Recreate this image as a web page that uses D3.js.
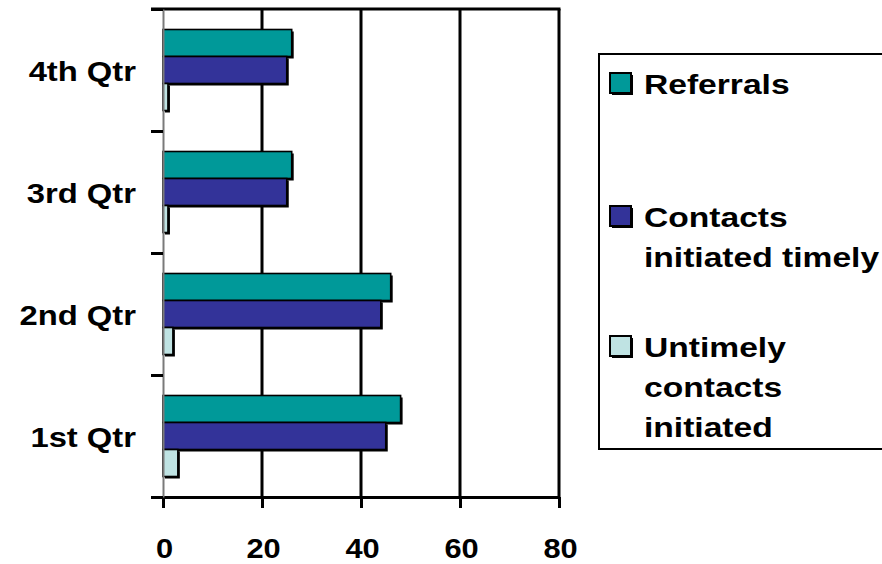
<!DOCTYPE html>
<html>
<head>
<meta charset="utf-8">
<script src="https://cdn.jsdelivr.net/npm/d3@7"></script>
<style>
  html, body { margin: 0; padding: 0; background: #fff; }
  svg { display: block; }
  text { font-family: "Liberation Sans", Arial, sans-serif; font-weight: bold; fill: #000; }
</style>
</head>
<body>
<svg id="chart" width="882" height="564"></svg>
<script>
// Quarterly referral and contact counts
const categories = ["1st Qtr", "2nd Qtr", "3rd Qtr", "4th Qtr"];
const referrals = [48, 46, 26, 26];
const contactsTimely = [45, 44, 25, 25];
const untimelyContacts = [3, 2, 1, 1];
const xTicks = [0, 20, 40, 60, 80];

const seriesNames = ["Referrals", "Contacts initiated timely", "Untimely contacts initiated"];
const seriesValues = [referrals, contactsTimely, untimelyContacts];
const seriesColors = ["#009999", "#333399", "#bfe3e3"];
const legendLines = [["Referrals"], ["Contacts", "initiated timely"], ["Untimely", "contacts", "initiated"]];

const svg = d3.select("#chart");

const plot = { left: 163, right: 559, top: 9, bottom: 497 };

const x = d3.scaleLinear().domain([0, 80]).range([plot.left, plot.right]);
const y = d3.scaleBand().domain(categories).range([plot.bottom, plot.top])
  .paddingInner(0.336).paddingOuter(0.168);
const ySub = d3.scaleBand().domain(d3.range(seriesNames.length)).range([0, y.bandwidth()]);
// band boundaries for the category axis ticks
const yEdge = d3.scaleLinear().domain([0, categories.length]).range([plot.bottom, plot.top]);

// vertical gridlines at the major ticks
svg.append("g").selectAll("line")
  .data(xTicks.filter(d => d > 0))
  .join("line")
  .attr("x1", d => x(d)).attr("x2", d => x(d))
  .attr("y1", plot.top).attr("y2", plot.bottom)
  .attr("stroke", "#000").attr("stroke-width", 3);

// top frame line
svg.append("line")
  .attr("x1", plot.left - 12).attr("x2", x(80) + 1.5)
  .attr("y1", plot.top).attr("y2", plot.top)
  .attr("stroke", "#000").attr("stroke-width", 3);

// bars: shadow first, then the filled bar
const rows = [];
categories.forEach((c, i) => {
  seriesValues.forEach((vals, s) => rows.push({ cat: c, s, v: vals[i] }));
});

const barG = svg.append("g");
barG.selectAll("rect.shadow")
  .data(rows)
  .join("rect")
  .attr("class", "shadow")
  .attr("x", x(0) + 2)
  .attr("y", d => y(d.cat) + ySub(d.s) + 2)
  .attr("width", d => x(d.v) - x(0))
  .attr("height", ySub.bandwidth())
  .attr("fill", "#000");

barG.selectAll("rect.bar")
  .data(rows)
  .join("rect")
  .attr("class", "bar")
  .attr("x", x(0))
  .attr("y", d => y(d.cat) + ySub(d.s))
  .attr("width", d => x(d.v) - x(0))
  .attr("height", ySub.bandwidth())
  .attr("fill", d => seriesColors[d.s])
  .attr("stroke", "#000").attr("stroke-width", 1.6);

// x axis
const xAxis = svg.append("g")
  .attr("transform", `translate(0,${plot.bottom})`)
  .call(d3.axisBottom(x).tickValues(xTicks).tickSize(11).tickSizeOuter(0).tickFormat(d3.format("d")));
xAxis.select(".domain").attr("stroke", "#000").attr("stroke-width", 3);
xAxis.selectAll(".tick line").attr("stroke", "#000").attr("stroke-width", 3);
xAxis.selectAll(".tick text").remove();
xAxis.selectAll(".tick").append("text")
  .attr("text-anchor", "middle")
  .attr("transform", "translate(1,61) scale(1.1,1)")
  .style("font-size", "28px")
  .text(d => d3.format("d")(d));

// category axis
const yAxis = svg.append("g")
  .attr("transform", `translate(${plot.left},0)`)
  .call(d3.axisLeft(yEdge).ticks(categories.length).tickSize(12).tickSizeOuter(0).tickFormat(""));
yAxis.select(".domain").attr("stroke", "#7a7a7a").attr("stroke-width", 2);
yAxis.selectAll(".tick line").attr("stroke", "#000").attr("stroke-width", 3);

svg.append("g").selectAll("text")
  .data(categories)
  .join("text")
  .attr("text-anchor", "end")
  .attr("transform", d => `translate(136,${y(d) + y.bandwidth() / 2 + 11}) scale(1.17,1)`)
  .style("font-size", "28px")
  .text(d => d);

// legend
const legend = svg.append("g");
legend.append("rect")
  .attr("x", 599).attr("y", 54)
  .attr("width", 320).attr("height", 395)
  .attr("fill", "#fff")
  .attr("stroke", "#000").attr("stroke-width", 2);

const legendTop = [94, 227, 357];
seriesNames.forEach((name, i) => {
  const g = legend.append("g");
  const by = legendTop[i];
  g.append("rect")
    .attr("x", 612).attr("y", by - 19).attr("width", 21).attr("height", 20)
    .attr("fill", "#000");
  g.append("rect")
    .attr("x", 610).attr("y", by - 21).attr("width", 21).attr("height", 20)
    .attr("fill", seriesColors[i])
    .attr("stroke", "#000").attr("stroke-width", 2);
  legendLines[i].forEach((line, k) => {
    g.append("text")
      .attr("transform", `translate(644,${by + k * 40}) scale(1.2,1)`)
      .style("font-size", "28px")
      .text(line);
  });
});
</script>
</body>
</html>
